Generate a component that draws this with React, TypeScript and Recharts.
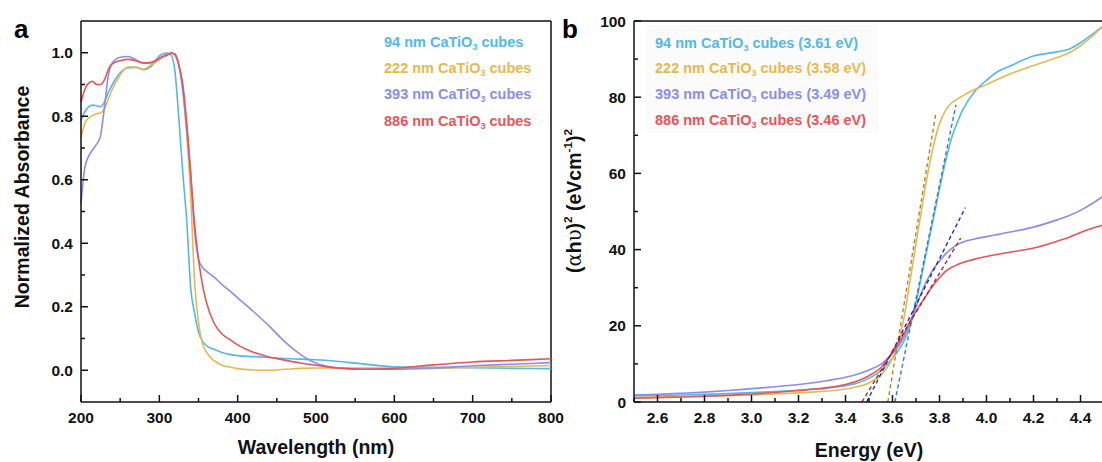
import React from 'react';
import { LineChart, Line, XAxis, YAxis, ReferenceLine } from 'recharts';

// Panel a: normalized UV-vis absorbance
const wavelengths = [
  200, 205, 210, 215, 220, 225, 230, 235, 240,
  250, 260, 270, 280, 290,
  300, 305, 310, 315, 320, 325, 330, 335, 340, 345, 350, 355, 360,
  370, 380, 390, 400,
  420, 440, 460, 480, 500, 520, 540, 560,
  600, 650, 700, 750, 800,
];
const abs94 = [
  0.787, 0.815, 0.83, 0.835, 0.833, 0.83, 0.845, 0.875, 0.9,
  0.937, 0.953, 0.954, 0.947, 0.958,
  0.99, 0.997, 0.999, 0.993, 0.94, 0.79, 0.62, 0.47, 0.26, 0.18, 0.12, 0.092, 0.078,
  0.066, 0.056, 0.05, 0.046,
  0.043, 0.04, 0.037, 0.035, 0.033, 0.03, 0.025, 0.02,
  0.011, 0.009, 0.008, 0.006, 0.005,
];
const abs222 = [
  0.734, 0.778, 0.795, 0.803, 0.808, 0.81, 0.825, 0.855, 0.885,
  0.93, 0.955, 0.955, 0.948, 0.963,
  0.978, 0.988, 0.995, 1.0, 0.99, 0.96, 0.88, 0.74, 0.55, 0.28, 0.15, 0.085, 0.058,
  0.03, 0.016, 0.01, 0.005,
  0.001, 0.0, 0.003, 0.006, 0.007, 0.007, 0.007, 0.007,
  0.007, 0.006, 0.009, 0.012, 0.015,
];
const abs393 = [
  0.525, 0.64, 0.675, 0.695, 0.712, 0.74, 0.83, 0.93, 0.968,
  0.986, 0.988, 0.978, 0.967, 0.968,
  0.982, 0.99, 0.995, 0.997, 0.997, 0.96, 0.88, 0.76, 0.62, 0.44, 0.35, 0.325, 0.312,
  0.293, 0.27, 0.25, 0.228,
  0.185, 0.14, 0.09, 0.05, 0.022, 0.01, 0.005, 0.003,
  0.003, 0.007, 0.014, 0.019, 0.024,
];
const abs886 = [
  0.845, 0.885, 0.905, 0.91, 0.9, 0.9, 0.915, 0.948, 0.965,
  0.975, 0.979, 0.975, 0.968, 0.97,
  0.983, 0.988, 0.992, 1.0, 0.995, 0.96, 0.9, 0.78, 0.62, 0.46, 0.35, 0.27, 0.215,
  0.148, 0.114, 0.097, 0.08,
  0.057, 0.042, 0.032, 0.023, 0.016, 0.009, 0.005, 0.003,
  0.006, 0.017, 0.026, 0.031, 0.036,
];

// Panel b: Tauc plot
const energies = [
  2.5, 2.6, 2.7, 2.8, 2.9, 3.0, 3.1, 3.2, 3.3, 3.4,
  3.45, 3.5, 3.55, 3.6, 3.625, 3.65, 3.675, 3.7, 3.725, 3.75,
  3.775, 3.8, 3.825, 3.85, 3.875, 3.9, 3.95, 4.0, 4.05, 4.1,
  4.2, 4.3, 4.35, 4.4, 4.45, 4.5,
];
const tauc94 = [
  1.6, 1.7, 1.85, 2.0, 2.2, 2.45, 2.75, 3.1, 3.5, 4.3,
  5.0, 6.2, 8.2, 11.5, 13.5, 16.2, 19.8, 26, 33.5, 41,
  48.5, 56, 63, 69, 73.3, 76.8, 81.5, 84.4, 86.8, 88.2,
  90.8, 91.9, 92.6, 94.3, 96.5, 98.9,
];
const tauc222 = [
  1.2, 1.3, 1.4, 1.5, 1.7, 1.9, 2.1, 2.4, 2.8, 3.4,
  4.0, 5.0, 7.0, 11.5, 15.5, 22.5, 32, 41.5, 51, 60,
  67.5, 73, 76.5, 78.4, 79.5, 80.4, 82, 83.3, 84.8, 86.1,
  88.3, 90.4, 91.6, 93.5, 96, 98.9,
];
const tauc393 = [
  1.8, 2.0, 2.3, 2.6, 3.0, 3.5, 4.0, 4.6, 5.4, 6.5,
  7.3, 8.4, 9.9, 12.8, 14.6, 17.2, 20.8, 25, 29, 32.3,
  35, 37, 38.8, 40.2, 41.3, 42, 42.8, 43.4, 44.0, 44.6,
  45.9, 47.8, 48.9, 50.3, 52.1, 54.2,
];
const tauc886 = [
  1.0, 1.15, 1.3, 1.5, 1.75, 2.1, 2.5, 3.0, 3.6, 4.6,
  5.5, 6.9, 9.0, 13, 15.3, 18, 21.3, 23.8, 26.2, 28.5,
  30.8, 32.6, 34.2, 35.3, 36.0, 36.6, 37.5, 38.2, 38.8, 39.3,
  40.4, 42.2, 43.2, 44.5, 45.6, 46.5,
];

// linear fits of the absorption edge (dashed)
const fit94 = [{ e: 3.61, y: 0 }, { e: 3.87, y: 78 }];
const fit222 = [{ e: 3.58, y: 0 }, { e: 3.785, y: 76 }];
const fit393 = [{ e: 3.49, y: 0 }, { e: 3.91, y: 51 }];
const fit886 = [{ e: 3.47, y: 0 }, { e: 3.89, y: 43 }];

const sampleSizes = ['94', '222', '393', '886'];
const bandGaps = ['3.61', '3.58', '3.49', '3.46'];

const wlTicks = [200, 250, 300, 350, 400, 450, 500, 550, 600, 650, 700, 750, 800];
const wlMajor = [200, 300, 400, 500, 600, 700, 800];
const absTicks = [0, 0.1, 0.2, 0.3, 0.4, 0.5, 0.6, 0.7, 0.8, 0.9, 1.0];
const absMajor = [0, 0.2, 0.4, 0.6, 0.8, 1.0];
const eTicks = [2.5, 2.6, 2.7, 2.8, 2.9, 3.0, 3.1, 3.2, 3.3, 3.4, 3.5, 3.6, 3.7, 3.8, 3.9, 4.0, 4.1, 4.2, 4.3, 4.4, 4.5];
const eMajor = [2.6, 2.8, 3.0, 3.2, 3.4, 3.6, 3.8, 4.0, 4.2, 4.4];
const taucTicks = [0, 10, 20, 30, 40, 50, 60, 70, 80, 90, 100];
const taucMajor = [0, 20, 40, 60, 80, 100];

const COLORS = ['#52b8ea', '#e8b850', '#8a8cf0', '#ea5457'];
const FIT_COLORS = ['#2f7db5', '#a8862c', '#1f2da0', '#b82228'];
const FONT = '"Liberation Sans", Arial, sans-serif';
const INK = '#111';

const absRows = wavelengths.map((wl, i) => ({
  wl, s0: abs94[i], s1: abs222[i], s2: abs393[i], s3: abs886[i],
}));
const taucRows = energies.map((e, i) => ({
  e, s0: tauc94[i], s1: tauc222[i], s2: tauc393[i], s3: tauc886[i],
}));
const fits = [fit94, fit222, fit393, fit886];

const BottomTick = (props: any) => {
  const { x, y, payload, majors, digits } = props;
  const major = majors.includes(payload.value);
  return (
    <g>
      <line x1={x} x2={x} y1={y} y2={y - (major ? 7 : 4)} stroke={INK} strokeWidth={1.5} />
      {major && (
        <text x={x} y={y + 21} textAnchor="middle" fontFamily={FONT} fontWeight="bold" fontSize={15.5} fill={INK}>
          {payload.value.toFixed(digits)}
        </text>
      )}
    </g>
  );
};

const LeftTick = (props: any) => {
  const { x, y, payload, majors, digits } = props;
  const major = majors.includes(payload.value);
  return (
    <g>
      <line x1={x} x2={x + (major ? 7 : 4)} y1={y} y2={y} stroke={INK} strokeWidth={1.5} />
      {major && (
        <text x={x - 8} y={y + 5.5} textAnchor="end" fontFamily={FONT} fontWeight="bold" fontSize={15.5} fill={INK}>
          {payload.value.toFixed(digits)}
        </text>
      )}
    </g>
  );
};

const axisLine = { stroke: INK, strokeWidth: 1.5 };

const Sub3 = () => (
  <sub style={{ fontSize: '0.62em', verticalAlign: '-0.3em', lineHeight: 0 }}>3</sub>
);

const centered = (left: number, top: number, rotate = false): React.CSSProperties => ({
  position: 'absolute',
  left,
  top,
  transform: `translate(-50%, -50%)${rotate ? ' rotate(-90deg)' : ''}`,
  whiteSpace: 'nowrap',
  fontSize: 19.5,
  fontWeight: 700,
  color: INK,
});

const serif: React.CSSProperties = { fontFamily: '"DejaVu Serif", serif', fontWeight: 400 };
const sup: React.CSSProperties = { fontSize: '0.6em', verticalAlign: '0.7em', lineHeight: 0 };

export default function App() {
  return (
    <div style={{ position: 'absolute', left: 0, top: 0, width: 1102, height: 462, overflow: 'hidden', background: '#fff', fontFamily: FONT }}>
      <div style={{ position: 'absolute', left: 0, top: 0 }}>
        <LineChart width={580} height={462} data={absRows} margin={{ top: 21, right: 29, bottom: 0, left: 0 }}>
          <XAxis
            dataKey="wl" type="number" domain={[200, 800]} ticks={wlTicks} interval={0}
            height={60} tickSize={0} tickMargin={0} tickLine={false} axisLine={axisLine}
            tick={(p: any) => <BottomTick {...p} majors={wlMajor} digits={0} />}
          />
          <YAxis
            type="number" domain={[-0.1, 1.1]} ticks={absTicks} interval={0}
            width={81} tickSize={0} tickMargin={0} tickLine={false} axisLine={axisLine}
            tick={(p: any) => <LeftTick {...p} majors={absMajor} digits={1} />}
          />
          <ReferenceLine y={1.1} stroke={INK} strokeWidth={1.5} />
          <ReferenceLine x={800} stroke={INK} strokeWidth={1.5} />
          {COLORS.map((c, i) => (
            <Line key={i} type="monotone" dataKey={`s${i}`} stroke={c} strokeWidth={1.6} dot={false} activeDot={false} isAnimationActive={false} />
          ))}
        </LineChart>
      </div>

      <div style={{ position: 'absolute', left: 560, top: 0 }}>
        <LineChart width={544} height={462} data={taucRows} margin={{ top: 21, right: 0, bottom: 0, left: 0 }}>
          <XAxis
            dataKey="e" type="number" domain={[2.5, 4.5]} ticks={eTicks} interval={0}
            height={60} tickSize={0} tickMargin={0} tickLine={false} axisLine={axisLine}
            tick={(p: any) => <BottomTick {...p} majors={eMajor} digits={1} />}
          />
          <YAxis
            type="number" domain={[0, 100]} ticks={taucTicks} interval={0}
            width={74} tickSize={0} tickMargin={0} tickLine={false} axisLine={axisLine}
            tick={(p: any) => <LeftTick {...p} majors={taucMajor} digits={0} />}
          />
          <ReferenceLine y={100} stroke={INK} strokeWidth={1.5} />
          <ReferenceLine x={4.5} stroke={INK} strokeWidth={1.5} />
          {COLORS.map((c, i) => (
            <Line key={`c${i}`} type="monotone" dataKey={`s${i}`} stroke={c} strokeWidth={1.6} dot={false} activeDot={false} isAnimationActive={false} />
          ))}
          {fits.map((f, i) => (
            <Line key={`f${i}`} data={f} type="linear" dataKey="y" stroke={FIT_COLORS[i]} strokeWidth={1.4} strokeDasharray="4 3" dot={false} activeDot={false} isAnimationActive={false} />
          ))}
        </LineChart>
      </div>

      {/* panel letters */}
      <div style={{ position: 'absolute', left: 14, top: 16, fontSize: 26, lineHeight: 1, fontWeight: 700 }}>a</div>
      <div style={{ position: 'absolute', left: 562, top: 16, fontSize: 26, lineHeight: 1, fontWeight: 700 }}>b</div>

      {/* axis titles */}
      <div style={centered(22, 197, true)}>Normalized Absorbance</div>
      <div style={centered(316, 447)}>Wavelength (nm)</div>
      <div style={centered(574, 201, true)}>
        (<span style={serif}>α</span>h<span style={serif}>υ</span>)<span style={sup}>2</span> (eVcm<span style={sup}>-1</span>)<span style={sup}>2</span>
      </div>
      <div style={centered(869, 450)}>Energy (eV)</div>

      {/* legends */}
      <div style={{ position: 'absolute', left: 384, top: 29, fontSize: 14.5, fontWeight: 700, lineHeight: '26.2px' }}>
        {sampleSizes.map((s, i) => (
          <div key={s} style={{ color: COLORS[i], whiteSpace: 'nowrap' }}>
            {s} nm CaTiO<Sub3 /> cubes
          </div>
        ))}
      </div>
      <div style={{ position: 'absolute', left: 646, top: 25, width: 232, height: 108, background: '#fbfbfb' }} />
      <div style={{ position: 'absolute', left: 655, top: 30.5, fontSize: 14.5, fontWeight: 700, lineHeight: '25.7px' }}>
        {sampleSizes.map((s, i) => (
          <div key={s} style={{ color: COLORS[i], whiteSpace: 'nowrap' }}>
            {s} nm CaTiO<Sub3 /> cubes ({bandGaps[i]} eV)
          </div>
        ))}
      </div>
    </div>
  );
}
